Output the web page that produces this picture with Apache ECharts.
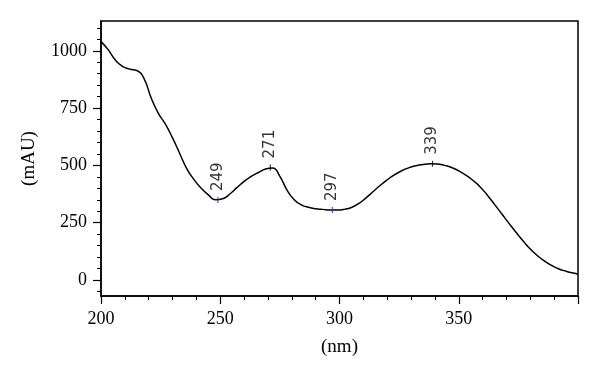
<!DOCTYPE html>
<html>
<head>
<meta charset="utf-8">
<script src="https://cdn.jsdelivr.net/npm/echarts@6/dist/echarts.min.js"></script>
<style>
  html, body { margin: 0; padding: 0; background: #fff; }
  #chart { width: 600px; height: 381px; }
</style>
</head>
<body>
<div id="chart"></div>
<script>
// spectrum (nm, mAU), every 3 nm
var wavelength = [200, 203, 206, 209, 212, 215, 218, 221, 224, 227, 230, 233, 236, 239, 242, 245, 248,
  251, 254, 257, 260, 263, 266, 269, 272, 275, 278, 281, 284, 287, 290, 293, 296, 299,
  302, 305, 308, 311, 314, 317, 320, 323, 326, 329, 332, 335, 338, 341, 344, 347, 350,
  353, 356, 359, 362, 365, 368, 371, 374, 377, 380, 383, 386, 389, 392, 395, 398, 400];
var absorbance = [1040, 1005, 960, 932, 920, 914, 880, 795, 728, 680, 620, 552, 485, 438, 400, 371, 350,
  354, 375, 403, 430, 452, 469, 484, 489, 452, 392, 350, 328, 317, 311, 308, 305, 305,
  308, 316, 333, 357, 385, 412, 437, 459, 476, 489, 498, 504, 507, 506, 500, 491, 476,
  457, 434, 406, 370, 330, 289, 248, 208, 170, 135, 106, 82, 63, 48, 38, 30, 25];

// marked peaks / valleys
var peakNm = [249, 271, 297, 339];
var peakVal = [349, 491, 305, 507];
var peakColor = ['#2233cc', '#000', '#2233cc', '#000'];

var yLabelTicks = [0, 250, 500, 750, 1000];
var yMinorTicks = [-50, 50, 100, 150, 200, 300, 350, 400, 450, 550, 600, 650, 700, 800, 850, 900, 950, 1050, 1100];

var chart = echarts.init(document.getElementById('chart'));

var lineData = wavelength.map(function (w, i) { return [w, absorbance[i]]; });
var peakData = peakNm.map(function (w, i) {
  return { value: [w, peakVal[i]], itemStyle: { color: peakColor[i] } };
});

var serif = 'Liberation Serif';

var option = {
  animation: false,
  grid: {
    left: 101, right: 22, top: 21, bottom: 85,
    show: true, borderColor: '#000', borderWidth: 1.5, backgroundColor: 'transparent'
  },
  xAxis: {
    type: 'value',
    min: 200, max: 400, interval: 50,
    name: '(nm)', nameLocation: 'middle', nameGap: 42,
    nameTextStyle: { fontFamily: serif, fontSize: 19, color: '#000' },
    axisLine: { onZero: false, lineStyle: { color: '#000', width: 1.5 } },
    axisTick: { inside: false, length: 8, lineStyle: { color: '#000', width: 1.2 } },
    minorTick: { show: true, splitNumber: 5, length: 4, lineStyle: { color: '#000', width: 1 } },
    splitLine: { show: false },
    axisLabel: {
      margin: 14, fontFamily: serif, fontSize: 18, color: '#000',
      formatter: function (v) { return v === 400 ? '' : String(v); }
    }
  },
  yAxis: [{
    type: 'value',
    min: -70, max: 1130,
    name: '(mAU)', nameLocation: 'middle', nameGap: 62,
    nameTextStyle: { fontFamily: serif, fontSize: 19, color: '#000' },
    axisLine: { onZero: false, lineStyle: { color: '#000', width: 1.5 } },
    axisTick: { customValues: yLabelTicks, length: 8, lineStyle: { color: '#000', width: 1.2 } },
    splitLine: { show: false },
    axisLabel: {
      customValues: yLabelTicks, margin: 14, fontFamily: serif, fontSize: 18, color: '#000',
      formatter: function (v) { return String(v); }
    }
  }, {
    type: 'value',
    position: 'left',
    min: -70, max: 1130,
    axisLine: { show: false, onZero: false },
    axisTick: { customValues: yMinorTicks, length: 4, lineStyle: { color: '#000', width: 1 } },
    axisLabel: { show: false },
    splitLine: { show: false }
  }],
  series: [{
    type: 'line',
    data: lineData,
    smooth: 0.5,
    showSymbol: false,
    lineStyle: { color: '#000', width: 1.5 }
  }, {
    type: 'scatter',
    data: peakData,
    symbol: 'rect',
    symbolSize: [1.2, 6],
    z: 5,
    label: {
      show: true,
      position: 'top',
      distance: 6,
      rotate: 90,
      align: 'left',
      verticalAlign: 'middle',
      fontFamily: 'DejaVu Sans',
      fontSize: 15,
      color: '#000',
      formatter: function (p) { return String(p.value[0]); }
    }
  }]
};

chart.setOption(option);
</script>
</body>
</html>
